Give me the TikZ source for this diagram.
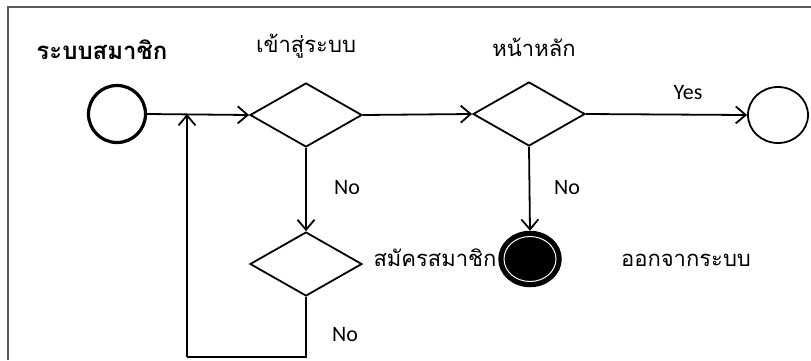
\documentclass[tikz,border=0pt]{standalone}
\usepackage{fontspec}
\setmainfont{Carlito}
\newfontfamily\thaifont[Script=Thai]{Loma}
\usetikzlibrary{shapes.geometric,arrows.meta}
\begin{document}
\begin{tikzpicture}[x=1pt,y=-1pt,
  arr/.style={line width=1.8pt,-{Straight Barb[length=10pt,width=17pt,line width=1.8pt]}},
  conn/.style={line width=1.8pt},
  dec/.style={draw,line width=1.8pt,diamond,minimum width=112pt,minimum height=64pt,inner sep=0pt},
  lbl/.style={font=\fontsize{22}{24}\selectfont},
  thai/.style={font=\thaifont\fontsize{22}{26}\selectfont},
  frameline/.style={draw=black!65,line width=2pt}]
\useasboundingbox (0,0) rectangle (811,360);
\draw[frameline] (8,360) -- (8,6.5) -- (811,6.5);
% nodes
\node[draw,line width=3.2pt,ellipse,minimum width=57pt,minimum height=57pt,inner sep=0pt] (start) at (117,114) {};
\node[dec] (d1) at (306,115) {};
\node[dec] (d2) at (529,114) {};
\node[dec] (d3) at (306,264) {};
\node[draw,line width=1.8pt,ellipse,minimum width=60pt,minimum height=56pt,inner sep=0pt] (end) at (778,115) {};
\node[fill=black,draw=black,line width=1.5pt,ellipse,minimum width=62pt,minimum height=55pt,inner sep=0pt] (fin) at (530,259) {};
\draw[white,line width=1pt] (fin.center) ellipse [x radius=26pt,y radius=22.5pt];
\coordinate (j) at (187,114);
\coordinate (bl) at (187,357);
% texts
\node[font=\thaifont\bfseries\fontsize{24}{28}\selectfont] (t0) at (102,50) {ระบบสมาชิก};
\node[thai] (t1) at (306,46) {เข้าสู่ระบบ};
\node[thai] (t2) at (534,47) {หน้าหลัก};
\node[thai] (t3) at (435,258) {สมัครสมาชิก};
\node[thai] (t4) at (686,260) {ออกจากระบบ};
\node[lbl] (yes) at (688,93) {Yes};
\node[lbl] (no1) at (347,188) {No};
\node[lbl] (no2) at (567,188) {No};
\node[lbl] (no3) at (345,335) {No};
% connectors
\draw[arr] (start.east) -- (d1.west);
\draw[arr] (d1.east) -- (d2.west);
\draw[arr] (d2.east) -- (end.west);
\draw[arr] (d1.south) -- (d3.north);
\draw[arr] (d2.south) -- (fin.north);
\draw[conn] (d3.south) |- (bl);
\draw[arr] (bl) -- (j);
\end{tikzpicture}
\end{document}
